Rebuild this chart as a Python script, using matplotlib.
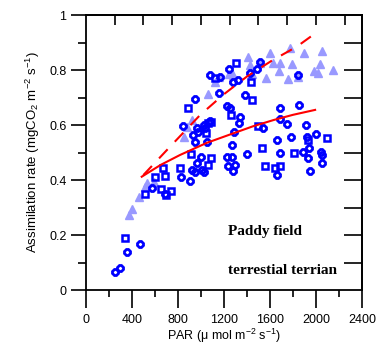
import matplotlib
matplotlib.use("Agg")
import matplotlib.pyplot as plt
import numpy as np

plt.rcParams['font.family'] = ['Liberation Sans', 'DejaVu Sans']
plt.rcParams['mathtext.fontset'] = 'custom'
plt.rcParams['mathtext.rm'] = 'Liberation Sans'
plt.rcParams['mathtext.it'] = 'Liberation Sans:italic'

# Light-blue triangles
tri_x = [377, 397, 461, 514, 534, 592, 853, 882, 920, 1065, 1123, 1161, 1248, 1277,
         1413, 1428, 1515, 1567, 1602, 1631, 1689, 1683, 1761, 1776, 1790, 1848,
         1898, 1979, 2014, 2037, 2051, 2147, 1442]
tri_y = [0.273, 0.293, 0.339, 0.376, 0.388, 0.394, 0.558, 0.594, 0.618, 0.712, 0.756,
         0.776, 0.785, 0.782, 0.848, 0.818, 0.824, 0.770, 0.863, 0.824, 0.824, 0.796,
         0.767, 0.879, 0.821, 0.773, 0.863, 0.798, 0.790, 0.822, 0.870, 0.800, 0.785]

# Blue circles
cir_x = [252, 296, 354, 470, 572, 688, 824, 905, 920, 963, 998, 1027, 847, 949, 934,
         949, 969, 1050, 1036, 1079, 1161, 1224, 1253, 1341, 1335, 1288, 1268, 1230,
         1239, 1283, 1297, 1248, 1283, 1326, 1384, 1486, 1515, 1399, 1538, 1660, 1660,
         1689, 1689, 1689, 1747, 1782, 1857, 1848, 1886, 1915, 1921, 1944, 1950, 1935,
         2002, 2043, 2051, 2051, 1428, 1164, 1079, 1030, 978, 1007, 1268, 949]
cir_y = [0.067, 0.079, 0.137, 0.167, 0.370, 0.348, 0.412, 0.396, 0.436, 0.461, 0.485,
         0.430, 0.596, 0.693, 0.564, 0.539, 0.588, 0.539, 0.588, 0.782, 0.718, 0.669,
         0.661, 0.630, 0.608, 0.576, 0.527, 0.485, 0.451, 0.434, 0.455, 0.804, 0.758,
         0.764, 0.709, 0.802, 0.830, 0.495, 0.588, 0.418, 0.545, 0.497, 0.661, 0.622,
         0.604, 0.558, 0.672, 0.782, 0.503, 0.600, 0.558, 0.515, 0.434, 0.479, 0.566,
         0.503, 0.491, 0.461, 0.788, 0.773, 0.616, 0.600, 0.576, 0.436, 0.485, 0.430]

# Blue squares
sq_x = [339, 514, 601, 650, 688, 667, 737, 818, 911, 1065, 1085, 891, 1065, 1085, 1044,
        1259, 1306, 1442, 1433, 1500, 1529, 1558, 1645, 1689, 1805, 1927, 2095, 1123, 696]
sq_y = [0.188, 0.348, 0.412, 0.366, 0.415, 0.442, 0.361, 0.442, 0.493, 0.455, 0.479,
        0.661, 0.606, 0.612, 0.570, 0.636, 0.824, 0.691, 0.758, 0.596, 0.515, 0.451,
        0.442, 0.451, 0.499, 0.545, 0.552, 0.772, 0.345]

# Fitted curves
solid_x = [485, 650, 818, 1050, 1283, 1450, 1631, 1800, 1993]
solid_y = [0.412, 0.455, 0.491, 0.535, 0.570, 0.595, 0.618, 0.637, 0.655]
dash_x = [499, 731, 992, 1200, 1399, 1620, 1834, 1993]
dash_y = [0.418, 0.521, 0.636, 0.712, 0.776, 0.835, 0.885, 0.933]

xticks = [0, 400, 800, 1200, 1600, 2000, 2400]
yticks = [0, 0.2, 0.4, 0.6, 0.8, 1]
ytick_labels = ['0', '0.2', '0.4', '0.6', '0.8', '1']

fig = plt.figure(figsize=(3.77, 3.49), dpi=100)
ax = fig.add_axes([0.228, 0.169, 0.732, 0.788])

blue = '#0000ff'
lblue = '#9999ff'
ax.plot(tri_x, tri_y, linestyle='none', marker='^', ms=6.3, mfc=lblue, mec=lblue,
        mew=1.0, zorder=3)
ax.plot(cir_x, cir_y, linestyle='none', marker='8', ms=5.4, mfc='none', mec=blue,
        mew=2.0, zorder=4)
ax.plot(sq_x, sq_y, linestyle='none', marker='s', ms=4.8, mfc='none', mec=blue,
        mew=1.8, zorder=4)

ax.plot(solid_x, solid_y, color='red', lw=1.5, zorder=5)
ax.plot(dash_x, dash_y, color='red', lw=1.5, dashes=(6, 5), zorder=5)

ax.set_xlim(0, 2400)
ax.set_ylim(0, 1)
ax.set_xticks(xticks)
ax.set_xticklabels([str(t) for t in xticks], fontsize=9)
ax.set_xticks(np.arange(200, 2400, 400), minor=True)
ax.set_yticks(yticks)
ax.set_yticklabels(ytick_labels, fontsize=9)
ax.set_yticks(np.arange(0.1, 1.0, 0.2), minor=True)
ax.tick_params(axis='x', which='major', direction='out', length=13, width=1.2, pad=4)
ax.tick_params(axis='x', which='minor', direction='out', length=5, width=1.2)
ax.tick_params(axis='y', which='major', direction='out', length=11, width=1.2, pad=3)
ax.tick_params(axis='y', which='minor', direction='out', length=6, width=1.2)
for s in ax.spines.values():
    s.set_linewidth(1.3)

# top and right inner ticks
top = ax.secondary_xaxis('top')
top.set_xticks(np.arange(250, 2400, 250))
top.set_xticklabels([])
top.tick_params(direction='in', length=7, width=1.2)
right = ax.secondary_yaxis('right')
right.set_yticks(np.arange(0.1, 0.95, 0.1))
right.set_yticklabels([])
right.tick_params(direction='in', length=13, width=1.2)
right.spines['right'].set_linewidth(1.3)
top.spines['top'].set_linewidth(1.3)

ax.set_xlabel('PAR (\u03bc mol m$^{-2}$ s$^{-1}$)', fontsize=9, labelpad=1)
ax.set_ylabel(r'Assimilation rate (mgCO$_2$ m$^{-2}$ s$^{-1}$)', fontsize=9.5, labelpad=5)

ax.text(1235, 0.2, 'Paddy field', family='Liberation Serif', weight='bold', fontsize=11)
ax.text(1235, 0.06, 'terrestial terrian', family='Liberation Serif', weight='bold', fontsize=11)

fig.savefig('out.png', dpi=100)
